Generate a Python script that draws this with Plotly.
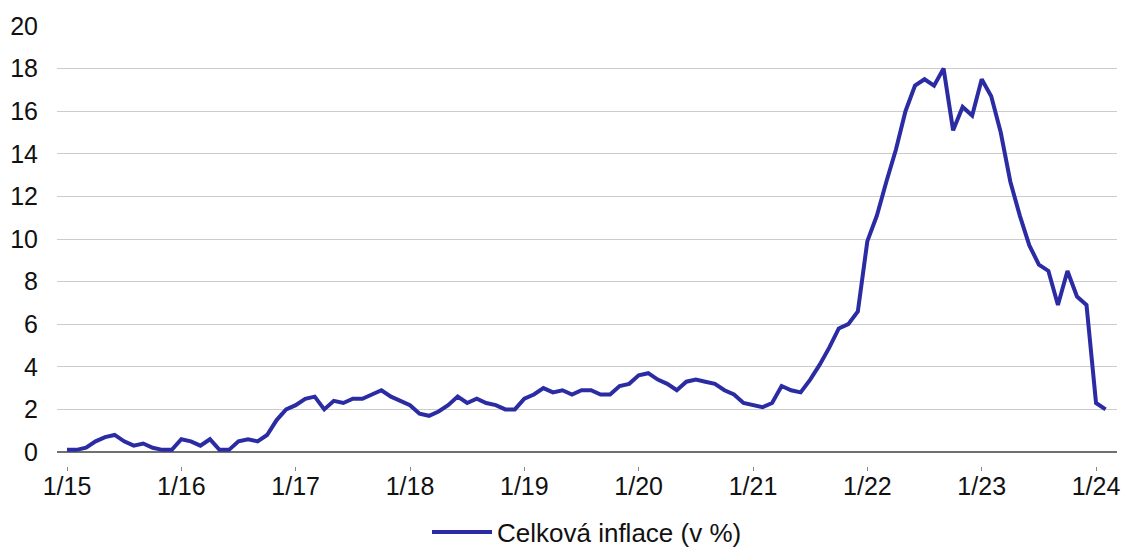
import plotly.graph_objects as go

# Monthly headline CPI inflation, year-on-year (%)
years = ["15", "16", "17", "18", "19", "20", "21", "22", "23", "24"]
infl_2015 = [0.1, 0.1, 0.2, 0.5, 0.7, 0.8, 0.5, 0.3, 0.4, 0.2, 0.1, 0.1]
infl_2016 = [0.6, 0.5, 0.3, 0.6, 0.1, 0.1, 0.5, 0.6, 0.5, 0.8, 1.5, 2.0]
infl_2017 = [2.2, 2.5, 2.6, 2.0, 2.4, 2.3, 2.5, 2.5, 2.7, 2.9, 2.6, 2.4]
infl_2018 = [2.2, 1.8, 1.7, 1.9, 2.2, 2.6, 2.3, 2.5, 2.3, 2.2, 2.0, 2.0]
infl_2019 = [2.5, 2.7, 3.0, 2.8, 2.9, 2.7, 2.9, 2.9, 2.7, 2.7, 3.1, 3.2]
infl_2020 = [3.6, 3.7, 3.4, 3.2, 2.9, 3.3, 3.4, 3.3, 3.2, 2.9, 2.7, 2.3]
infl_2021 = [2.2, 2.1, 2.3, 3.1, 2.9, 2.8, 3.4, 4.1, 4.9, 5.8, 6.0, 6.6]
infl_2022 = [9.9, 11.1, 12.7, 14.2, 16.0, 17.2, 17.5, 17.2, 18.0, 15.1, 16.2, 15.8]
infl_2023 = [17.5, 16.7, 15.0, 12.7, 11.1, 9.7, 8.8, 8.5, 6.9, 8.5, 7.3, 6.9]
infl_2024 = [2.3, 2.0]

values = (infl_2015 + infl_2016 + infl_2017 + infl_2018 + infl_2019
          + infl_2020 + infl_2021 + infl_2022 + infl_2023 + infl_2024)
month_idx = list(range(len(values)))
tick_pos = [12 * i for i in range(len(years))]
tick_text = ["1/" + y for y in years]

font_family = "Liberation Sans, Arial, sans-serif"

fig = go.Figure()
fig.add_trace(go.Scatter(
    x=month_idx, y=values, mode="lines",
    name="Celková inflace (v %)",
    line=dict(color="#2b2ca3", width=4),
))

fig.update_layout(
    width=1123, height=548,
    margin=dict(l=57, r=6, t=26, b=20, autoexpand=False),
    plot_bgcolor="white", paper_bgcolor="white",
    font=dict(family=font_family, size=25, color="#111111"),
    showlegend=True,
    legend=dict(orientation="h", x=0.5, xanchor="center", y=-0.008, yanchor="middle",
                font=dict(size=26), itemwidth=60),
    xaxis=dict(
        range=[-1.05, 110.2],
        tickmode="array", tickvals=tick_pos, ticktext=tick_text,
        tickfont=dict(size=25),
        showgrid=False, zeroline=False, showline=False,
        ticks="outside", ticklen=4, tickcolor="#888888", tickwidth=1,
        anchor="free", position=0.1235, automargin=False,
        ticklabelstandoff=-6,
    ),
    yaxis=dict(
        domain=[0.1514, 1], range=[0, 20],
        tickmode="array", tickvals=list(range(0, 21, 2)),
        tickfont=dict(size=25),
        showgrid=True, gridcolor="#cccccc", gridwidth=1,
        zeroline=True, zerolinecolor="#707070", zerolinewidth=1.5,
        showline=False, ticks="", ticklabelstandoff=18, automargin=False,
    ),
)

fig.write_html("out.html")
